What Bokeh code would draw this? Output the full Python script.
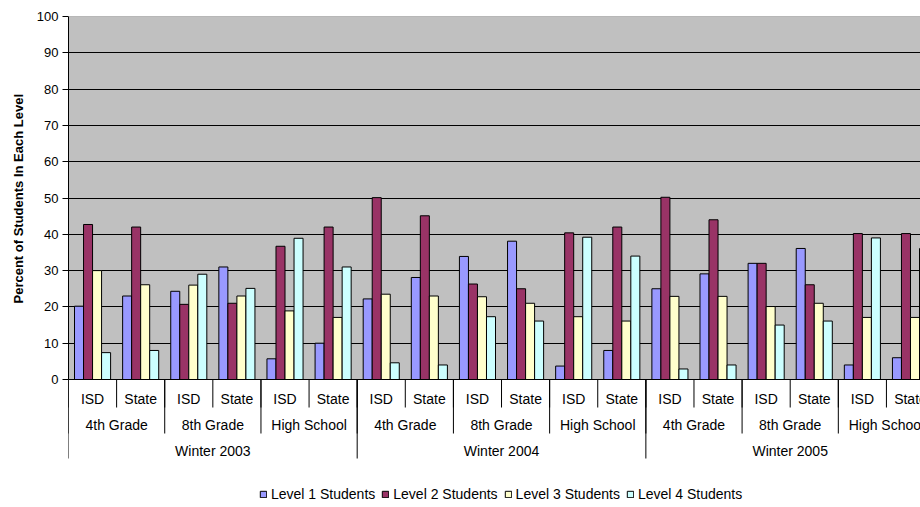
from bokeh.plotting import figure
from bokeh.models import Range1d, FixedTicker, Legend, LegendItem, BoxAnnotation, Span, Title
from bokeh.core.properties import value
from bokeh.embed import file_html
from bokeh.resources import INLINE

# ---- data ----
years = ["Winter 2003", "Winter 2004", "Winter 2005"]
grades = ["4th Grade", "8th Grade", "High School"]
sources = ["ISD", "State"]
series_names = ["Level 1 Students", "Level 2 Students", "Level 3 Students", "Level 4 Students"]
level1 = [20.2, 23.0, 24.3, 31.0, 5.7, 10.0, 22.2, 28.1, 33.9, 38.1, 3.7, 8.0, 25.0, 29.1, 32.0, 36.1, 4.0, 6.0]
level2 = [42.7, 42.0, 20.7, 21.0, 36.7, 42.0, 50.1, 45.1, 26.3, 25.0, 40.4, 42.0, 50.2, 44.0, 32.0, 26.1, 40.2, 40.2]
level3 = [30.0, 26.1, 26.0, 23.0, 18.9, 17.1, 23.5, 23.0, 22.8, 21.0, 17.3, 16.1, 22.9, 22.9, 20.1, 21.0, 17.1, 17.1]
level4 = [7.4, 8.0, 29.0, 25.1, 38.9, 31.0, 4.6, 4.0, 17.3, 16.1, 39.2, 34.0, 2.9, 4.0, 15.0, 16.1, 39.0, 36.1]
y_ticks = [0, 10, 20, 30, 40, 50, 60, 70, 80, 90, 100]

# ---- styles / layout constants ----
colors = ["#9999FF", "#993366", "#FFFFCC", "#CCFFFF"]
FONT = "Liberation Sans"
FS_Y = "13px"
FS_X = "14px"
BAR_W = 0.1875
W, H = 920, 507
LEFT, TOP = 67, 16
ZERO_PX = 379            # pixel row of value 0
PX_PER_UNIT = (ZERO_PX - TOP) / 100.0
GROUP_PX = 48.17
ROW_Y = [-19 / PX_PER_UNIT, -45 / PX_PER_UNIT, -71 / PX_PER_UNIT]      # label rows
DIV_Y = [-28 / PX_PER_UNIT, -54 / PX_PER_UNIT, -79 / PX_PER_UNIT]      # divider ends
TITLE_BOTTOM_PX = 303

n_sub = len(years) * len(grades) * len(sources)
n_grade = len(years) * len(grades)
y_start = -(H - ZERO_PX) / PX_PER_UNIT
x_end = (W - LEFT) / GROUP_PX

p = figure(width=W, height=H, x_range=Range1d(0, x_end), y_range=Range1d(y_start, 100),
           output_backend="svg", toolbar_location=None, x_axis_location=None,
           min_border_left=LEFT, min_border_right=0, min_border_top=TOP, min_border_bottom=0,
           background_fill_color="white", border_fill_color="white", outline_line_color=None)

# plot-area background
p.add_layout(BoxAnnotation(bottom=0, top=100, fill_color="#C0C0C0", fill_alpha=1,
                           line_color=None, level="image"))
p.add_layout(Span(location=100, dimension="width", line_color="#808080", line_width=1))

# grid
p.xgrid.visible = False
p.ygrid.ticker = FixedTicker(ticks=y_ticks[1:-1])
p.ygrid.grid_line_color = "black"
p.ygrid.grid_line_width = 1

renderers = []
for k, vals in enumerate([level1, level2, level3, level4]):
    xs = [i + 0.5 + (k - 1.5) * BAR_W for i in range(n_sub)]
    r = p.vbar(x=xs, top=vals, bottom=0, width=BAR_W, fill_color=colors[k],
               line_color="black", line_width=1)
    renderers.append(r)

# category axis line
p.add_layout(Span(location=0, dimension="width", line_color="black", line_width=1))

# y axis
ya = p.yaxis[0]
ya.ticker = FixedTicker(ticks=y_ticks)
ya.bounds = (0, 100)
ya.major_tick_in = 0
ya.major_tick_out = 6
ya.minor_tick_out = 0
ya.minor_tick_in = 0
ya.axis_line_color = "black"
ya.major_tick_line_color = "black"
ya.major_label_standoff = 4
ya.major_label_text_font = FONT
ya.major_label_text_font_size = FS_Y
ya.major_label_text_color = "black"

p.add_layout(Title(text="Percent of Students In Each Level", align="left", offset=H - TITLE_BOTTOM_PX,
                   text_font=FONT, text_font_size=FS_Y, text_font_style="bold",
                   text_color="black", standoff=16), "left")

# multi-level category axis: dividers
sub_bounds = list(range(n_sub + 1))
grade_bounds = list(range(0, n_sub + 1, 2))
year_bounds = list(range(0, n_sub + 1, 6))
for bounds, yend in zip([sub_bounds, grade_bounds, year_bounds], DIV_Y):
    p.segment(x0=bounds, y0=[0] * len(bounds), x1=bounds, y1=[yend] * len(bounds),
              line_color="black", line_width=1)

# multi-level category axis: labels
sub_x = [i + 0.5 for i in range(n_sub)]
sub_lab = [sources[i % 2] for i in range(n_sub)]
grade_x = [2 * i + 1 for i in range(n_grade)]
grade_lab = [grades[i % 3] for i in range(n_grade)]
year_x = [6 * i + 3 for i in range(len(years))]
for xs, labs, yy in zip([sub_x, grade_x, year_x], [sub_lab, grade_lab, years], ROW_Y):
    p.text(x=xs, y=[yy] * len(xs), text=labs, text_align="center", text_baseline="middle",
           text_font=value(FONT), text_font_size=FS_X, text_color="black")

legend = Legend(items=[LegendItem(label=series_names[k], renderers=[renderers[k]]) for k in range(4)],
                orientation="horizontal", location=(191, 5))
legend.border_line_color = None
legend.background_fill_alpha = 0
legend.label_text_font = FONT
legend.label_text_font_size = FS_X
legend.label_text_color = "black"
legend.glyph_width = 8
legend.glyph_height = 8
legend.label_standoff = 4
legend.spacing = 6
legend.padding = 0
legend.margin = 0
p.add_layout(legend, "center")

open("out.html", "w").write(file_html(p, INLINE))
